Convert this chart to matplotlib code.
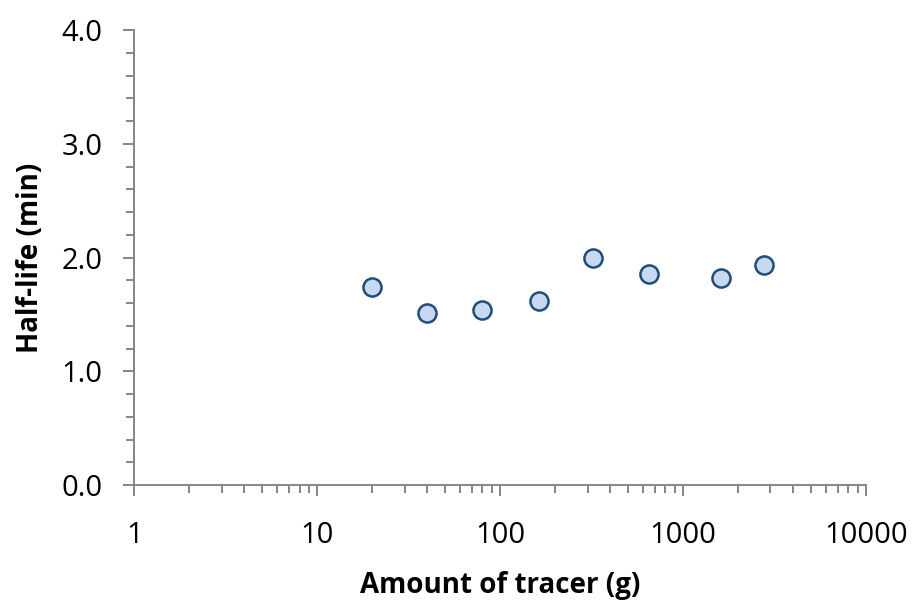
import numpy as np
import matplotlib.pyplot as plt
from matplotlib.ticker import LogLocator, MultipleLocator, FixedLocator, FuncFormatter

# datos
tracer_g = [20, 40, 80, 162, 322, 649, 1607, 2750]
half_life_min = [1.74, 1.515, 1.54, 1.62, 2.00, 1.855, 1.82, 1.93]

x_ticks = [1, 10, 100, 1000, 10000]
x_labels = ['1', '10', '100', '1000', '10000']

plt.rcParams['font.family'] = ['Open Sans', 'DejaVu Sans']
gris = '#868686'

fig = plt.figure(figsize=(9.17, 6.01), dpi=100)
ax = fig.add_axes([0.1465, 0.193, 0.798, 0.757])

ax.scatter(tracer_g, half_life_min, s=170, facecolor='#c6d9f0', edgecolor='#1f4e79',
           linewidth=1.8, zorder=3)

ax.set_xscale('log')
ax.set_xlim(1, 10000)
ax.set_ylim(0, 4.0)

ax.xaxis.set_major_locator(FixedLocator(x_ticks))
ax.set_xticklabels(x_labels)
ax.xaxis.set_minor_locator(LogLocator(base=10, subs=np.arange(2, 10)))
ax.xaxis.set_minor_formatter(FuncFormatter(lambda v, p: ''))

ax.yaxis.set_major_locator(MultipleLocator(1.0))
ax.yaxis.set_minor_locator(MultipleLocator(0.2))
ax.yaxis.set_major_formatter(FuncFormatter(lambda v, p: f'{v:.1f}'))

for s in ['top', 'right']:
    ax.spines[s].set_visible(False)
for s in ['left', 'bottom']:
    ax.spines[s].set_color(gris)
    ax.spines[s].set_linewidth(1.4)

ax.tick_params(which='major', direction='out', length=8, width=1.4, color=gris,
               labelsize=21, labelcolor='black')
ax.tick_params(axis='y', which='major', pad=15)
ax.tick_params(axis='x', which='major', pad=18)
ax.tick_params(which='minor', direction='out', length=5.5, width=1.4, color=gris)

ax.set_xlabel('Amount of tracer (g)', fontsize=20, fontweight='bold', labelpad=15)
ax.set_ylabel('Half-life (min)', fontsize=20, fontweight='bold', labelpad=12)

fig.savefig('out.png', dpi=100)
